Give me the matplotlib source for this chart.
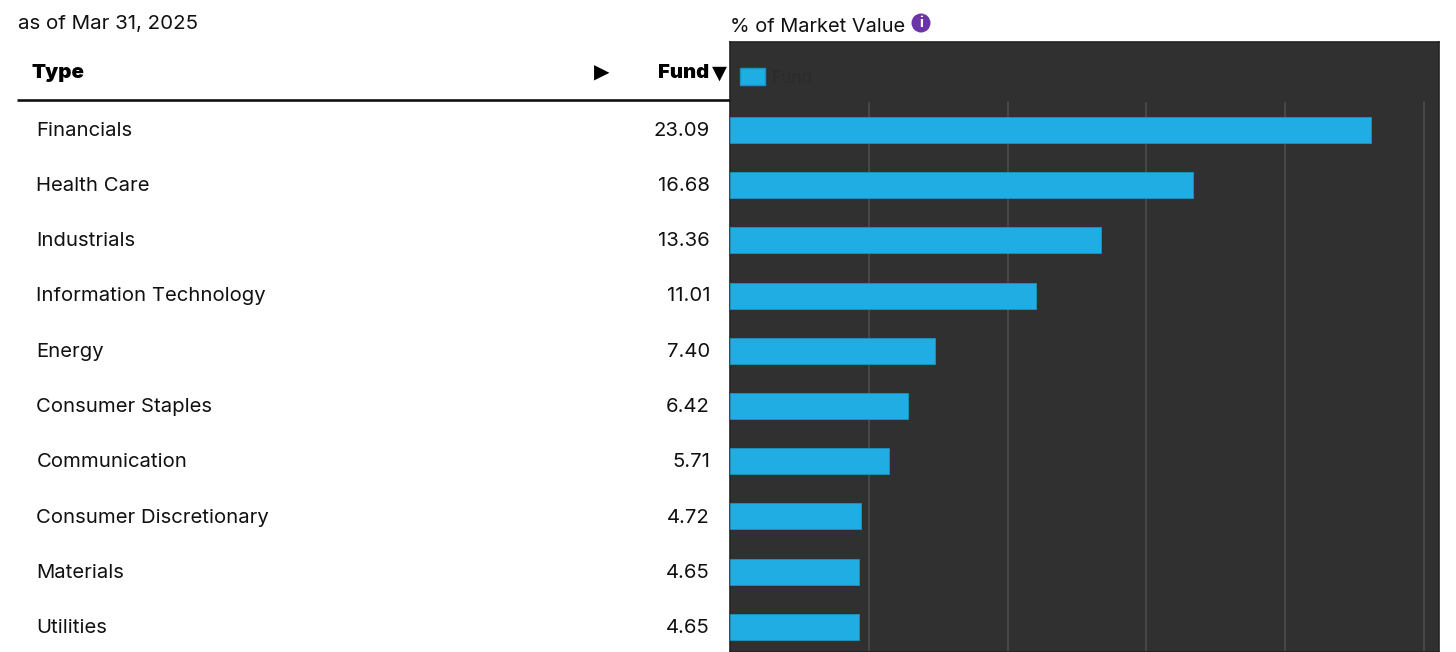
import matplotlib
matplotlib.use("Agg")
import matplotlib.pyplot as plt
from matplotlib.patches import Patch, Circle

categories = ["Financials", "Health Care", "Industrials", "Information Technology", "Energy",
              "Consumer Staples", "Communication", "Consumer Discretionary", "Materials", "Utilities"]
fund_values = [23.09, 16.68, 13.36, 11.01, 7.40, 6.42, 5.71, 4.72, 4.65, 4.65]
grid_ticks = [5, 10, 15, 20, 25]
as_of = "as of Mar 31, 2025"
axis_title = "% of Market Value"

W, H = 1456, 652
plt.rcParams["font.family"] = ["Inter", "DejaVu Sans"]
fig = plt.figure(figsize=(W / 100, H / 100), dpi=100, facecolor="white")

def px_axes(x0, y0, x1, y1, **kw):
    return fig.add_axes([x0 / W, 1 - y1 / H, (x1 - x0) / W, (y1 - y0) / H], **kw)

PANEL = "#303030"
BLUE = "#20ade3"
INK = "#111111"
row0, step = 130.0, 55.2
def row(y_px):
    return (y_px - row0) / step

# chart panel
ax = px_axes(730, 42, 1439, 652, facecolor=PANEL)
ax.set_xlim(0, 709 / 27.76)
ax.set_ylim(row(652), row(42))
ax.vlines(grid_ticks, row(102), row(652), color="#4a4a4a", lw=1.3, zorder=1)
ax.barh(range(len(categories)), fund_values, height=26 / step, color=BLUE,
        edgecolor="#1a93c2", lw=0.6, zorder=3)
ax.set_xticks([]); ax.set_yticks([])
for s in ax.spines.values():
    s.set_color("#222222"); s.set_linewidth(1.2)
leg = ax.legend(handles=[Patch(facecolor=BLUE, edgecolor="#1a93c2", label="Fund")],
                loc="upper left", bbox_to_anchor=(-0.0095, 0.984), frameon=False,
                handlelength=1.44, handleheight=1.15, handletextpad=0.4,
                borderaxespad=0.55, fontsize=12.5, labelcolor="#2b2b2b")

# table
FS = 14.6
tb = px_axes(0, 0, 730, 652, facecolor="none")
tb.set_xlim(0, 730); tb.set_ylim(652, 0); tb.axis("off")
for i, (name, val) in enumerate(zip(categories, fund_values)):
    y = row0 + 0.5 + i * 55.3
    tb.text(36.5, y, name, fontsize=FS, color=INK, va="center", ha="left")
    tb.text(710, y, f"{val:.2f}", fontsize=FS, color=INK, va="center", ha="right")
tb.text(17.5, 24.5, as_of, fontsize=14.8, color=INK, va="center", ha="left")
tb.text(32, 73, "Type", fontsize=14.8, fontweight="black", color="black", va="center", ha="left")
tb.text(709, 73, "Fund", fontsize=14.5, fontweight="black", color="black", va="center", ha="right")
tb.text(602, 73, "\u25B6", fontsize=14.5, color="black", va="center", ha="center", family="DejaVu Sans")
tb.text(719, 73, "\u25BC", fontsize=14, color="black", va="center", ha="center", family="DejaVu Sans")
tb.plot([17, 730], [99.5, 99.5], color="#111111", lw=1.9, solid_capstyle="butt")

# heading above panel
hd = px_axes(720, 0, 1000, 42, facecolor="none")
hd.set_xlim(720, 1000); hd.set_ylim(42, 0); hd.axis("off")
hd.text(729.5, 27, axis_title, fontsize=14.4, color=INK, va="center", ha="left")
hd.add_patch(Circle((921, 23), 9.5, facecolor="#6b35a8", edgecolor="none"))
hd.text(921, 23, "i", fontsize=10.5, fontweight="bold", color="white", va="center", ha="center")

fig.savefig("out.png", dpi=100, facecolor="white")
